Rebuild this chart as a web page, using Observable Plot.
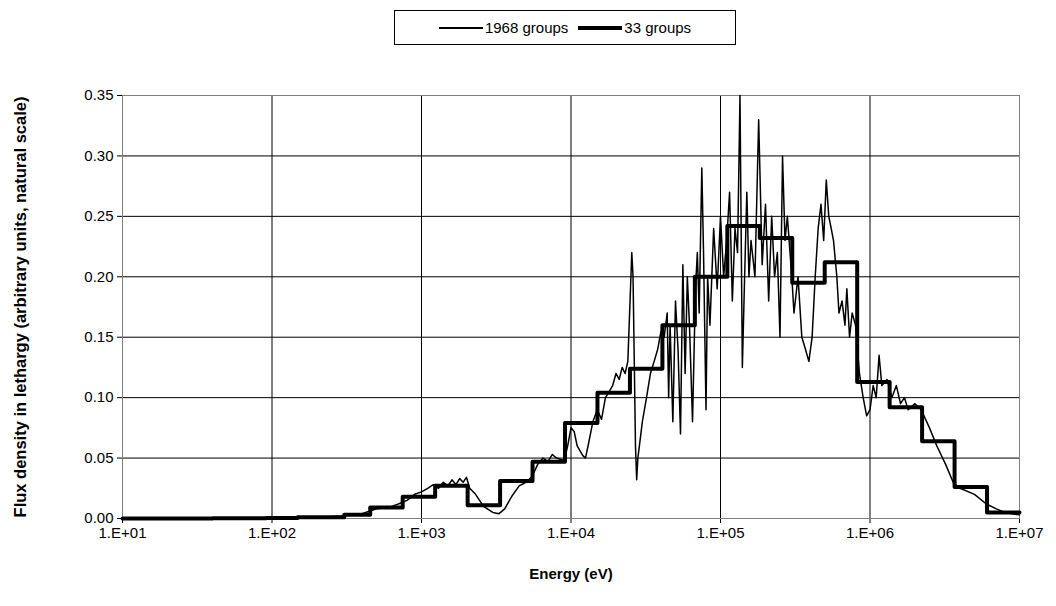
<!DOCTYPE html>
<html><head><meta charset="utf-8">
<script src="https://cdn.jsdelivr.net/npm/d3@7"></script>
<script src="https://cdn.jsdelivr.net/npm/@observablehq/plot@0.6"></script>
<style>
body{margin:0;background:#fff;font-family:"Liberation Sans",Arial,sans-serif}
#wrap{position:relative;width:1056px;height:606px}
#legend{position:absolute;left:394px;top:10px;width:340px;height:33px;border:1px solid #000;display:flex;align-items:center;justify-content:center;gap:10px;font-size:15px}
#legend span{display:inline-flex;align-items:center}
#legend i{display:inline-block;width:44px;background:#000;margin-right:2px}
#chart svg text{font-size:15px}
#chart svg text.ylab{font-size:16.5px}
</style></head><body>
<div id="wrap">
<div id="legend"><span><i style="height:2px"></i>1968 groups</span><span><i style="height:4px"></i>33 groups</span></div>
<div id="chart"></div>
</div>
<script>
// 1968-group spectrum (E in eV, flux)
const fineE = [10,100,200,300,400,500,600,700,800,900,1000,1100,1200,1300,1400,1500,1600,1700,1800,1900,2000,2100,2300,2600,3000,3300,3600,4000,4500,5000,5500,6000,6500,7000,7500,8000,9000,9500,10000,10500,11000,12000,12500,13000,14000,15000,16000,17000,18000,19000,20000,21000,22000,23000,24000,25000,25500,26000,26500,27000,27500,28000,29000,30000,32000,34000,36000,38000,40000,42000,44000,45000,46000,48000,50000,52000,54000,56000,58000,60000,62000,65000,68000,70000,72000,75000,77000,80000,82000,85000,90000,95000,100000,105000,110000,115000,120000,125000,130000,135000,140000,145000,150000,155000,160000,170000,180000,190000,200000,210000,220000,230000,240000,250000,260000,270000,280000,300000,310000,330000,350000,370000,390000,410000,430000,450000,470000,490000,510000,530000,550000,570000,600000,620000,650000,680000,700000,730000,760000,800000,850000,900000,950000,1000000,1050000,1100000,1150000,1200000,1300000,1400000,1500000,1600000,1700000,1800000,2000000,2200000,2500000,2800000,3200000,3600000,4000000,5000000,6000000,7000000,8000000,10000000];
const fineV = [0,0.0003,0.001,0.002,0.004,0.008,0.009,0.012,0.015,0.02,0.022,0.025,0.028,0.025,0.03,0.027,0.032,0.028,0.033,0.03,0.034,0.025,0.02,0.01,0.005,0.004,0.008,0.018,0.027,0.03,0.035,0.045,0.05,0.047,0.053,0.05,0.048,0.06,0.075,0.072,0.06,0.052,0.05,0.06,0.08,0.09,0.082,0.1,0.105,0.11,0.12,0.115,0.125,0.12,0.13,0.19,0.22,0.2,0.13,0.06,0.032,0.05,0.065,0.08,0.1,0.12,0.13,0.14,0.155,0.15,0.17,0.1,0.16,0.08,0.18,0.14,0.07,0.21,0.12,0.2,0.16,0.08,0.19,0.22,0.17,0.29,0.22,0.09,0.2,0.16,0.24,0.19,0.25,0.2,0.23,0.27,0.18,0.24,0.22,0.35,0.125,0.2,0.27,0.2,0.23,0.2,0.33,0.21,0.26,0.18,0.25,0.2,0.22,0.15,0.3,0.23,0.25,0.2,0.17,0.2,0.15,0.14,0.13,0.15,0.2,0.24,0.26,0.23,0.28,0.25,0.24,0.23,0.2,0.17,0.18,0.16,0.19,0.15,0.17,0.16,0.12,0.1,0.085,0.09,0.11,0.1,0.135,0.11,0.115,0.1,0.11,0.095,0.1,0.09,0.095,0.09,0.075,0.06,0.045,0.03,0.025,0.02,0.012,0.008,0.005,0.003];
// 33-group lower bounds (eV) and values
const groupE = [10,13.71,22.6,40.17,67.9,91.66,148.6,304.3,454,748.5,1234,2035,3355,5531,9119,15030,24790,40870,67380,111100,183200,302000,497900,820900,1353000,2231000,3679000,6065000,10000000];
const groupV = [0,0,0.0001,0.0002,0.0003,0.0005,0.001,0.003,0.009,0.018,0.027,0.011,0.031,0.047,0.079,0.104,0.124,0.160,0.200,0.242,0.232,0.195,0.212,0.113,0.092,0.064,0.026,0.005,0.005];

const fine = fineE.map((e,i)=>({e, v: fineV[i]}));
const groups = groupE.map((e,i)=>({e, v: groupV[i]}));

const plot = Plot.plot({
  width: 1056, height: 606,
  marginLeft: 122, marginRight: 37, marginTop: 95, marginBottom: 88,
  style: {fontFamily: "Liberation Sans, Arial, sans-serif", fontSize: "15px", color: "#000"},
  x: {type: "log", domain: [10, 1e7], ticks: [1e1,1e2,1e3,1e4,1e5,1e6,1e7],
      tickFormat: d => "1.E+" + String(Math.round(Math.log10(d))).padStart(2,"0"),
      label: null, tickSize: 5, tickPadding: 4},
  y: {domain: [0, 0.35], ticks: d3.range(0, 0.351, 0.05), tickFormat: d => d.toFixed(2),
      label: null, tickSize: 5, tickPadding: 4},
  marks: [
    Plot.gridX([1e1,1e2,1e3,1e4,1e5,1e6,1e7], {stroke: "#000", strokeOpacity: 1}),
    Plot.gridY(d3.range(0, 0.351, 0.05), {stroke: "#000", strokeOpacity: 1}),
    Plot.frame({stroke: "#808080"}),
    Plot.line(fine, {x: "e", y: "v", stroke: "#000", strokeWidth: 1.5}),
    Plot.line(groups, {x: "e", y: "v", stroke: "#000", strokeWidth: 4, curve: "step-after"}),
    Plot.text(["Energy (eV)"], {frameAnchor: "bottom", dy: 60, fontWeight: "bold"}),
    Plot.text(["Flux density in lethargy (arbitrary units, natural scale)"], {frameAnchor: "left", dx: -102, rotate: -90, textAnchor: "middle", fontWeight: "bold", className: "ylab"})
  ]
});
plot.querySelectorAll("g[aria-label=text]").forEach(g => {
  if (g.textContent.startsWith("Flux")) g.querySelectorAll("text").forEach(t => t.classList.add("ylab"));
});
document.getElementById("chart").appendChild(plot);
</script>
</body></html>
